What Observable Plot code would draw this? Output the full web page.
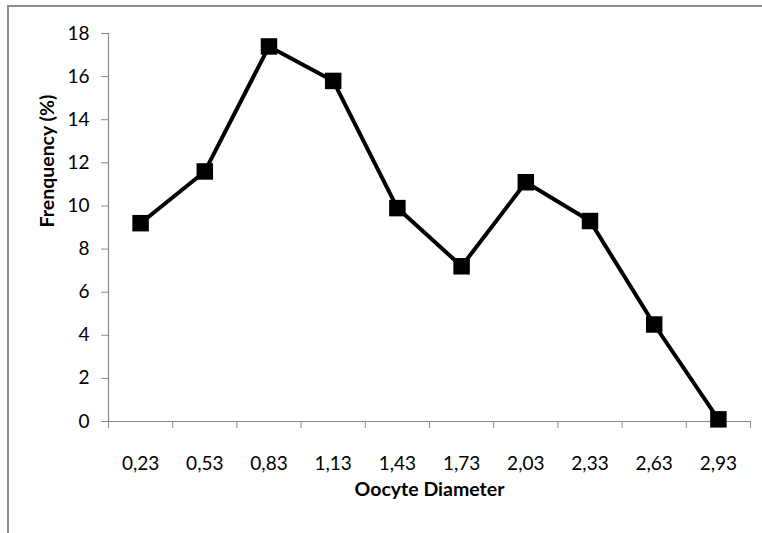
<!DOCTYPE html>
<html>
<head>
<meta charset="utf-8">
<script src="https://cdn.jsdelivr.net/npm/d3@7"></script>
<script src="https://cdn.jsdelivr.net/npm/@observablehq/plot@0.6"></script>
<style>
  html, body { margin: 0; padding: 0; background: #fff; }
  #wrap { position: relative; width: 762px; height: 533px; overflow: hidden; }
  #border { position: absolute; left: 7px; top: 5px; width: 800px; height: 600px;
            border-top: 2px solid #8c8c8c; border-left: 2px solid #8c8c8c; }
  #chart { position: absolute; left: 0; top: 0; }
</style>
</head>
<body>
<div id="wrap"><div id="border"></div><div id="chart"></div></div>
<script>
const diameters = [0.23, 0.53, 0.83, 1.13, 1.43, 1.73, 2.03, 2.33, 2.63, 2.93];
const xLabels = ["0,23", "0,53", "0,83", "1,13", "1,43", "1,73", "2,03", "2,33", "2,63", "2,93"];
const frequency = [9.2, 11.6, 17.4, 15.8, 9.9, 7.2, 11.1, 9.3, 4.5, 0.1];
const yTicks = [0, 2, 4, 6, 8, 10, 12, 14, 16, 18];
const xTitle = "Oocyte Diameter";
const yTitle = "Frenquency (%)";

const data = diameters.map((d, i) => ({d, f: frequency[i]}));
const half = (diameters[1] - diameters[0]) / 2;
const boundaries = diameters.map(d => d - half).concat([diameters[diameters.length - 1] + half]);

const chart = Plot.plot({
  width: 762,
  height: 533,
  marginLeft: 108,
  marginRight: 12,
  marginTop: 33,
  marginBottom: 112,
  style: {fontFamily: "Lato, 'Open Sans', sans-serif", fontSize: "19px", color: "#000", background: "transparent"},
  x: {type: "linear", domain: [boundaries[0], boundaries[boundaries.length - 1]]},
  y: {domain: [0, 18]},
  marks: [
    Plot.ruleY([0], {stroke: "#8a8a8a", strokeWidth: 1.2}),
    Plot.frame({anchor: "left", stroke: "#8a8a8a", strokeWidth: 1.2}),
    Plot.axisY({ticks: yTicks, tickSize: 7, tickPadding: 12, stroke: "#8a8a8a", label: null, fontSize: 19, tickFormat: d => String(d)}),
    Plot.axisX({ticks: boundaries, tickSize: 7, stroke: "#8a8a8a", tickFormat: () => "", label: null}),
    Plot.axisX({ticks: diameters, tickSize: 0, tickPadding: 35, label: null, fontSize: 19,
      tickFormat: d => xLabels[diameters.findIndex(v => Math.abs(v - d) < 1e-9)]}),
    Plot.line(data, {x: "d", y: "f", stroke: "#000", strokeWidth: 4, strokeLinejoin: "miter"}),
    Plot.dot(data, {x: "d", y: "f", symbol: "square", r: 9.3, fill: "#000", stroke: "none"}),
    Plot.text([xTitle], {frameAnchor: "bottom", dy: 74, fontWeight: "bold", fontSize: 19.5, fill: "#000"}),
    Plot.text([yTitle], {frameAnchor: "left", dx: -61, rotate: -90, fontWeight: "bold", fontSize: 19.5, fill: "#000"})
  ]
});
document.getElementById("chart").appendChild(chart);
</script>
</body>
</html>
